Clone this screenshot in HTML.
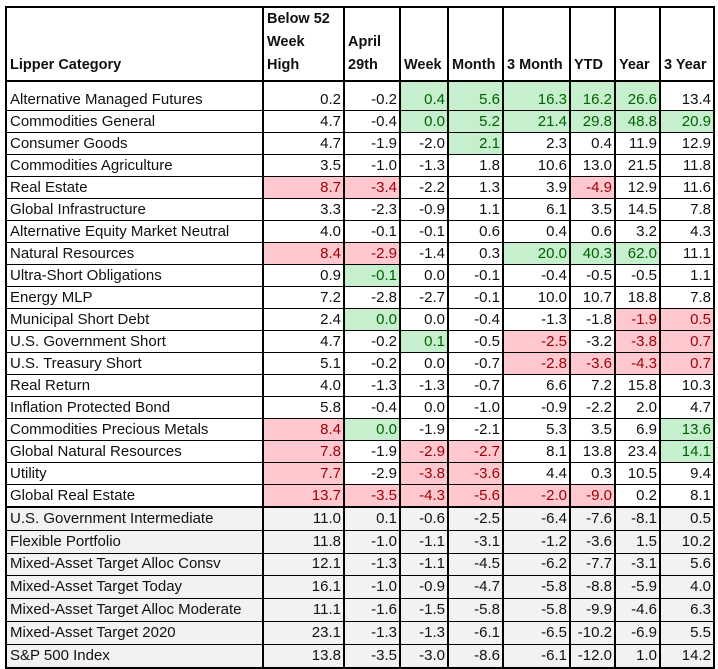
<!DOCTYPE html>
<html><head><meta charset="utf-8"><style>
body{margin:0;background:#fff;width:718px;height:669px;overflow:hidden;font-family:"Liberation Sans",sans-serif;}
table{position:absolute;left:5px;top:6px;border-collapse:collapse;table-layout:fixed;width:708px;border:2px solid #000;}
td{font-size:15px;color:#111;padding:0 2px 0 3px;white-space:nowrap;overflow:hidden;border-top:1px solid #000;border-bottom:1px solid #000;border-left:2px solid #000;border-right:2px solid #000;text-align:right;line-height:16px;}
td:first-child{text-align:left;}
tr.h td{font-weight:bold;vertical-align:bottom;text-align:left;padding-bottom:3px;height:65px;border-bottom:2px solid #000;line-height:23px;font-size:14.5px;}
tr.r1 td{height:26px;vertical-align:bottom;padding-bottom:2px;}
tr.a td{height:21px;}
tr.b td{height:21.8px;background:#f2f2f2;}
tr.b1 td{border-top:2px solid #000;}
td.g{background:#c6efce;color:#006100;}
td.r{background:#ffc7ce;color:#9c0006;}
</style></head><body>
<table>
<colgroup><col style="width:257px"><col style="width:81px"><col style="width:56px"><col style="width:48px"><col style="width:55px"><col style="width:67px"><col style="width:45px"><col style="width:45px"><col style="width:54px"></colgroup>
<tr class="h"><td>Lipper Category</td><td>Below 52<br>Week<br>High</td><td>April<br>29th</td><td>Week</td><td>Month</td><td>3 Month</td><td>YTD</td><td>Year</td><td>3 Year</td></tr>
<tr class="r1"><td>Alternative Managed Futures</td><td>0.2</td><td>-0.2</td><td class="g">0.4</td><td class="g">5.6</td><td class="g">16.3</td><td class="g">16.2</td><td class="g">26.6</td><td>13.4</td></tr>
<tr class="a"><td>Commodities General</td><td>4.7</td><td>-0.4</td><td class="g">0.0</td><td class="g">5.2</td><td class="g">21.4</td><td class="g">29.8</td><td class="g">48.8</td><td class="g">20.9</td></tr>
<tr class="a"><td>Consumer Goods</td><td>4.7</td><td>-1.9</td><td>-2.0</td><td class="g">2.1</td><td>2.3</td><td>0.4</td><td>11.9</td><td>12.9</td></tr>
<tr class="a"><td>Commodities Agriculture</td><td>3.5</td><td>-1.0</td><td>-1.3</td><td>1.8</td><td>10.6</td><td>13.0</td><td>21.5</td><td>11.8</td></tr>
<tr class="a"><td>Real Estate</td><td class="r">8.7</td><td class="r">-3.4</td><td>-2.2</td><td>1.3</td><td>3.9</td><td class="r">-4.9</td><td>12.9</td><td>11.6</td></tr>
<tr class="a"><td>Global Infrastructure</td><td>3.3</td><td>-2.3</td><td>-0.9</td><td>1.1</td><td>6.1</td><td>3.5</td><td>14.5</td><td>7.8</td></tr>
<tr class="a"><td>Alternative Equity Market Neutral</td><td>4.0</td><td>-0.1</td><td>-0.1</td><td>0.6</td><td>0.4</td><td>0.6</td><td>3.2</td><td>4.3</td></tr>
<tr class="a"><td>Natural Resources</td><td class="r">8.4</td><td class="r">-2.9</td><td>-1.4</td><td>0.3</td><td class="g">20.0</td><td class="g">40.3</td><td class="g">62.0</td><td>11.1</td></tr>
<tr class="a"><td>Ultra-Short Obligations</td><td>0.9</td><td class="g">-0.1</td><td>0.0</td><td>-0.1</td><td>-0.4</td><td>-0.5</td><td>-0.5</td><td>1.1</td></tr>
<tr class="a"><td>Energy MLP</td><td>7.2</td><td>-2.8</td><td>-2.7</td><td>-0.1</td><td>10.0</td><td>10.7</td><td>18.8</td><td>7.8</td></tr>
<tr class="a"><td>Municipal Short Debt</td><td>2.4</td><td class="g">0.0</td><td>0.0</td><td>-0.4</td><td>-1.3</td><td>-1.8</td><td class="r">-1.9</td><td class="r">0.5</td></tr>
<tr class="a"><td>U.S. Government Short</td><td>4.7</td><td>-0.2</td><td class="g">0.1</td><td>-0.5</td><td class="r">-2.5</td><td>-3.2</td><td class="r">-3.8</td><td class="r">0.7</td></tr>
<tr class="a"><td>U.S. Treasury Short</td><td>5.1</td><td>-0.2</td><td>0.0</td><td>-0.7</td><td class="r">-2.8</td><td class="r">-3.6</td><td class="r">-4.3</td><td class="r">0.7</td></tr>
<tr class="a"><td>Real Return</td><td>4.0</td><td>-1.3</td><td>-1.3</td><td>-0.7</td><td>6.6</td><td>7.2</td><td>15.8</td><td>10.3</td></tr>
<tr class="a"><td>Inflation Protected Bond</td><td>5.8</td><td>-0.4</td><td>0.0</td><td>-1.0</td><td>-0.9</td><td>-2.2</td><td>2.0</td><td>4.7</td></tr>
<tr class="a"><td>Commodities Precious Metals</td><td class="r">8.4</td><td class="g">0.0</td><td>-1.9</td><td>-2.1</td><td>5.3</td><td>3.5</td><td>6.9</td><td class="g">13.6</td></tr>
<tr class="a"><td>Global Natural Resources</td><td class="r">7.8</td><td>-1.9</td><td class="r">-2.9</td><td class="r">-2.7</td><td>8.1</td><td>13.8</td><td>23.4</td><td class="g">14.1</td></tr>
<tr class="a"><td>Utility</td><td class="r">7.7</td><td>-2.9</td><td class="r">-3.8</td><td class="r">-3.6</td><td>4.4</td><td>0.3</td><td>10.5</td><td>9.4</td></tr>
<tr class="a"><td>Global Real Estate</td><td class="r">13.7</td><td class="r">-3.5</td><td class="r">-4.3</td><td class="r">-5.6</td><td class="r">-2.0</td><td class="r">-9.0</td><td>0.2</td><td>8.1</td></tr>
<tr class="b b1"><td>U.S. Government Intermediate</td><td>11.0</td><td>0.1</td><td>-0.6</td><td>-2.5</td><td>-6.4</td><td>-7.6</td><td>-8.1</td><td>0.5</td></tr>
<tr class="b"><td>Flexible Portfolio</td><td>11.8</td><td>-1.0</td><td>-1.1</td><td>-3.1</td><td>-1.2</td><td>-3.6</td><td>1.5</td><td>10.2</td></tr>
<tr class="b"><td>Mixed-Asset Target Alloc Consv</td><td>12.1</td><td>-1.3</td><td>-1.1</td><td>-4.5</td><td>-6.2</td><td>-7.7</td><td>-3.1</td><td>5.6</td></tr>
<tr class="b"><td>Mixed-Asset Target Today</td><td>16.1</td><td>-1.0</td><td>-0.9</td><td>-4.7</td><td>-5.8</td><td>-8.8</td><td>-5.9</td><td>4.0</td></tr>
<tr class="b"><td>Mixed-Asset Target Alloc Moderate</td><td>11.1</td><td>-1.6</td><td>-1.5</td><td>-5.8</td><td>-5.8</td><td>-9.9</td><td>-4.6</td><td>6.3</td></tr>
<tr class="b"><td>Mixed-Asset Target 2020</td><td>23.1</td><td>-1.3</td><td>-1.3</td><td>-6.1</td><td>-6.5</td><td>-10.2</td><td>-6.9</td><td>5.5</td></tr>
<tr class="b"><td>S&amp;P 500 Index</td><td>13.8</td><td>-3.5</td><td>-3.0</td><td>-8.6</td><td>-6.1</td><td>-12.0</td><td>1.0</td><td>14.2</td></tr>
</table>
</body></html>
